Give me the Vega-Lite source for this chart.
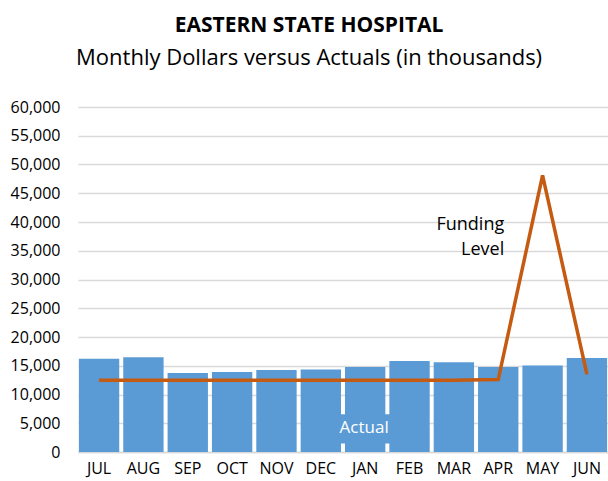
{
  "$schema": "https://vega.github.io/schema/vega-lite/v6.json",
  "autosize": {"type": "none"},
  "padding": {"left": 78, "top": 107, "right": 0, "bottom": 29},
  "width": 530,
  "height": 345,
  "background": "white",
  "title": {
    "text": "EASTERN STATE HOSPITAL",
    "subtitle": "Monthly Dollars versus Actuals (in thousands)",
    "anchor": "middle",
    "frame": "bounds",
    "font": "Open Sans",
    "fontSize": 21,
    "fontWeight": "bold",
    "color": "#000000",
    "subtitleFont": "Open Sans",
    "subtitleFontSize": 22,
    "subtitleColor": "#000000",
    "subtitlePadding": 12,
    "offset": 30
  },
  "datasets": {
    "monthly": [
      {"month": "JUL", "actual": 16200, "funding": 12500},
      {"month": "AUG", "actual": 16500, "funding": 12500},
      {"month": "SEP", "actual": 13750, "funding": 12500},
      {"month": "OCT", "actual": 13900, "funding": 12500},
      {"month": "NOV", "actual": 14250, "funding": 12500},
      {"month": "DEC", "actual": 14330, "funding": 12500},
      {"month": "JAN", "actual": 14780, "funding": 12500},
      {"month": "FEB", "actual": 15830, "funding": 12500},
      {"month": "MAR", "actual": 15600, "funding": 12500},
      {"month": "APR", "actual": 14780, "funding": 12600},
      {"month": "MAY", "actual": 15030, "funding": 48100},
      {"month": "JUN", "actual": 16350, "funding": 13500}
    ],
    "labels": [
      {"month": "APR", "value": 39430, "label": "Funding", "kind": "funding"},
      {"month": "APR", "value": 35080, "label": "Level", "kind": "funding"},
      {"month": "JAN", "value": 4100, "low": 1500, "high": 6550, "label": "Actual", "kind": "actual"}
    ]
  },
  "config": {
    "view": {"stroke": null},
    "font": "Open Sans",
    "axis": {
      "labelFont": "Open Sans",
      "labelFontSize": 16,
      "labelColor": "#000000",
      "labelOverlap": false,
      "ticks": false,
      "title": null
    },
    "axisX": {"labelAngle": 0, "domainColor": "#d9d9d9", "domainWidth": 1.5, "labelPadding": 8, "grid": false},
    "axisY": {"format": ",d", "domain": false, "gridColor": "#d9d9d9", "gridWidth": 1.5, "labelPadding": 18, "labelOverlap": false}
  },
  "encoding": {
    "x": {
      "field": "month",
      "type": "nominal",
      "sort": null,
      "scale": {"paddingInner": 0.09, "paddingOuter": 0.02}
    },
    "y": {
      "type": "quantitative",
      "scale": {"domain": [0, 60000], "nice": false},
      "axis": {"values": [0,5000,10000,15000,20000,25000,30000,35000,40000,45000,50000,55000,60000]}
    }
  },
  "layer": [
    {
      "data": {"name": "monthly"},
      "mark": {"type": "bar", "color": "#5b9bd5"},
      "encoding": {
        "y": {"field": "actual", "type": "quantitative", "axis": {"values": [0,5000,10000,15000,20000,25000,30000,35000,40000,45000,50000,55000,60000]}}
      }
    },
    {
      "data": {"name": "labels"},
      "transform": [{"filter": "datum.kind == 'actual'"}],
      "mark": {"type": "bar", "color": "#5b9bd5", "width": 60},
      "encoding": {
        "y": {"field": "low", "type": "quantitative", "axis": {"values": [0,5000,10000,15000,20000,25000,30000,35000,40000,45000,50000,55000,60000]}},
        "y2": {"field": "high"}
      }
    },
    {
      "data": {"name": "monthly"},
      "mark": {"type": "line", "color": "#c55a11", "strokeWidth": 3.5, "strokeJoin": "miter"},
      "encoding": {
        "y": {"field": "funding", "type": "quantitative", "axis": {"values": [0,5000,10000,15000,20000,25000,30000,35000,40000,45000,50000,55000,60000]}}
      }
    },
    {
      "data": {"name": "labels"},
      "transform": [{"filter": "datum.kind == 'funding'"}],
      "mark": {"type": "text", "align": "right", "baseline": "middle", "fontSize": 18, "dx": 6, "color": "#000000"},
      "encoding": {
        "y": {"field": "value", "type": "quantitative", "axis": {"values": [0,5000,10000,15000,20000,25000,30000,35000,40000,45000,50000,55000,60000]}},
        "text": {"field": "label"}
      }
    },
    {
      "data": {"name": "labels"},
      "transform": [{"filter": "datum.kind == 'actual'"}],
      "mark": {"type": "text", "align": "center", "baseline": "middle", "fontSize": 17, "dx": -1, "color": "#ffffff"},
      "encoding": {
        "y": {"field": "value", "type": "quantitative", "axis": {"values": [0,5000,10000,15000,20000,25000,30000,35000,40000,45000,50000,55000,60000]}},
        "text": {"field": "label"}
      }
    }
  ]
}
